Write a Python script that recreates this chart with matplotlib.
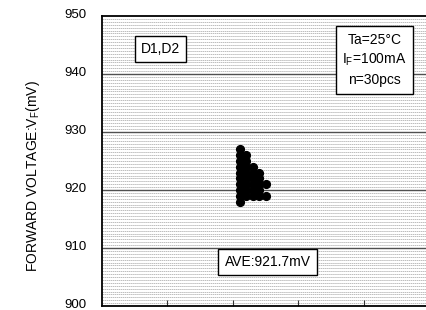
import numpy as np
import matplotlib
matplotlib.use("Agg")
import matplotlib.pyplot as plt
import matplotlib.transforms as mtransforms
from collections import Counter

plt.rcParams['font.family'] = ['Liberation Sans', 'DejaVu Sans']
plt.rcParams['mathtext.fontset'] = 'custom'
plt.rcParams['mathtext.rm'] = 'Liberation Sans'
plt.rcParams['mathtext.it'] = 'Liberation Sans'

vf_values = [927,
             926, 926,
             925, 925,
             924, 924, 924,
             923, 923, 923, 923,
             922, 922, 922, 922,
             921, 921, 921, 921, 921,
             920, 920, 920, 920,
             919, 919, 919, 919, 919,
             918]
y_ticks = [900, 910, 920, 930, 940, 950]
x_ticks = [1, 2, 3, 4]
group_x = 2.1
stack_step = 0.1

fig = plt.figure(figsize=(4.27, 3.10), dpi=100)
ax = fig.add_axes([102/427, 4/310, 327.5/427, 290/310])
ax.set_xlim(0, 5)
ax.set_ylim(900, 950)

# minor grid every 0.5 mV
for v in np.arange(900.5, 950, 0.5):
    if abs(v - round(v / 10) * 10) < 1e-6:
        continue
    ax.axhline(v, color='#bdbdbd', lw=0.7, ls=(0, (1.5, 0.6)), zorder=1)
for v in y_ticks[1:-1]:
    ax.axhline(v, color='#505050', lw=1.0, zorder=2)

# stacked dots
counts = Counter()
xs, ys = [], []
for v in vf_values:
    xs.append(group_x + stack_step * counts[v])
    ys.append(v)
    counts[v] += 1
ax.plot(xs, ys, 'o', color='black', ms=5.6, zorder=5)

# y tick labels, drawn at tick values and nudged slightly upward
ax.set_yticks(y_ticks)
ax.set_yticklabels([])
ax.tick_params(axis='y', length=0)
blend = mtransforms.blended_transform_factory(ax.transAxes, ax.transData)
lab_tr = mtransforms.offset_copy(blend, fig=fig, x=-15, y=1.5, units='dots')
for t in y_ticks:
    ax.text(0, t, str(t), transform=lab_tr, ha='right', va='center',
            fontsize=9.5, clip_on=False)

ax.set_xticks(x_ticks)
ax.set_xticklabels([])
ax.tick_params(axis='x', direction='in', length=4, width=0.8, color='#333333')
for s in ax.spines.values():
    s.set_linewidth(1.3)
    s.set_color('black')

fig.text(33/427, 1 - 176/310, 'FORWARD VOLTAGE:V$_\\mathrm{F}$(mV)', rotation=90,
         ha='center', va='center', fontsize=10)

box = dict(boxstyle='square,pad=0.45', fc='white', ec='black', lw=1.0)
fig.text(160.5/427, 1 - 49/310, 'D1,D2', ha='center', va='center', fontsize=10, bbox=box, zorder=10)
fig.text(374.5/427, 1 - 60/310, 'Ta=25°C\nI$_\\mathrm{F}$=100mA\nn=30pcs', ha='center', va='center',
         fontsize=10, linespacing=1.45, bbox=box, zorder=10)
fig.text(267.5/427, 1 - 262/310, 'AVE:921.7mV', ha='center', va='center', fontsize=10, bbox=box, zorder=10)

fig.savefig('out.png', dpi=100)
